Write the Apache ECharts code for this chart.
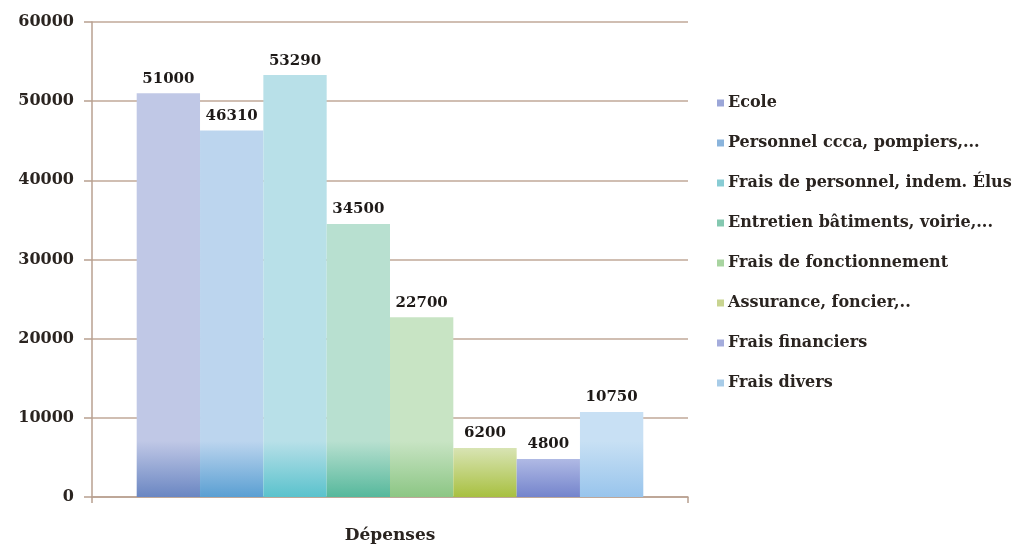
<!DOCTYPE html>
<html>
<head>
<meta charset="utf-8">
<script src="https://cdn.jsdelivr.net/npm/echarts@6/dist/echarts.min.js"></script>
<style>html,body{margin:0;padding:0;background:#fff;}#c{width:1036px;height:545px;}</style>
</head>
<body>
<div id="c"></div>
<script>
const categories = ['Dépenses'];
const seriesNames = ['Ecole', 'Personnel ccca, pompiers,...', 'Frais de personnel, indem. Élus', 'Entretien bâtiments, voirie,...', 'Frais de fonctionnement', 'Assurance, foncier,..', 'Frais financiers', 'Frais divers'];
const seriesValues = [51000, 46310, 53290, 34500, 22700, 6200, 4800, 10750];
const yTicks = [0, 10000, 20000, 30000, 40000, 50000, 60000];
const topColors = ['#c0c8e6', '#bcd5ee', '#b8e0e8', '#b8e0d0', '#c8e4c4', '#dfe9c4', '#ccd3f0', '#c8e0f4'];
const bottomColors = ['#6a86c2', '#5a9fd2', '#5ac2cc', '#56b89c', '#8cc684', '#a8c040', '#7484cc', '#98c4ec'];
const legendColors = ['#9ba6d8', '#8ab4dc', '#88ccd4', '#84c8b0', '#a8d4a0', '#c8d490', '#a4acdc', '#a8cce8'];

const FONT = 'DejaVu Serif';
const chart = echarts.init(document.getElementById('c'), null, {renderer: 'canvas'});
const GRID_TOP = 22, GRID_BOTTOM = 48;

const series = seriesNames.map((n, i) => ({
  name: n,
  type: 'bar',
  data: [seriesValues[i]],
  barGap: '0%',
  barCategoryGap: '15%',
  itemStyle: {
    color: new echarts.graphic.LinearGradient(0, 545 - GRID_BOTTOM - 80, 0, 545 - GRID_BOTTOM, [
      {offset: 0, color: topColors[i]},
      {offset: 0.3, color: topColors[i]},
      {offset: 1, color: bottomColors[i]}
    ], true)
  },
  label: {
    show: true,
    position: 'top',
    distance: 4,
    color: '#1e1a18',
    fontFamily: FONT,
    fontWeight: 'bold',
    fontSize: 15,
    backgroundColor: '#ffffff',
    padding: [3, 3, 3, 3]
  }
}));

chart.setOption({
  backgroundColor: '#ffffff',
  animation: false,
  grid: {left: 92, right: 348, top: GRID_TOP, bottom: GRID_BOTTOM, containLabel: false},
  legend: {
    orient: 'vertical',
    left: 712,
    top: 88,
    itemWidth: 7,
    itemHeight: 7,
    itemGap: 20,
    icon: 'rect',
    textStyle: {fontFamily: FONT, fontWeight: 'bold', fontSize: 16, color: '#2a2420', lineHeight: 20, padding: [0, 0, 0, -1]},
    data: seriesNames.map((n, i) => ({name: n, itemStyle: {color: legendColors[i]}}))
  },
  xAxis: {
    type: 'category',
    data: categories,
    axisLine: {show: true, lineStyle: {color: '#b8a090', width: 1.5}},
    axisTick: {show: true, length: 6, lineStyle: {color: '#b8a090', width: 1.5}},
    axisLabel: {fontFamily: FONT, fontWeight: 'bold', fontSize: 17, color: '#2a2420', margin: 30}
  },
  yAxis: {
    type: 'value',
    min: yTicks[0],
    max: yTicks[yTicks.length - 1],
    interval: yTicks[1] - yTicks[0],
    axisLine: {show: true, lineStyle: {color: '#b8a090', width: 1.5}},
    axisTick: {show: true, length: 8, lineStyle: {color: '#b8a090', width: 1.5}},
    splitLine: {show: true, lineStyle: {color: '#c0a898', width: 1.5}},
    axisLabel: {fontFamily: FONT, fontWeight: 'bold', fontSize: 16, color: '#2a2420', margin: 18, formatter: v => String(v)}
  },
  series: series
});
</script>
</body>
</html>
